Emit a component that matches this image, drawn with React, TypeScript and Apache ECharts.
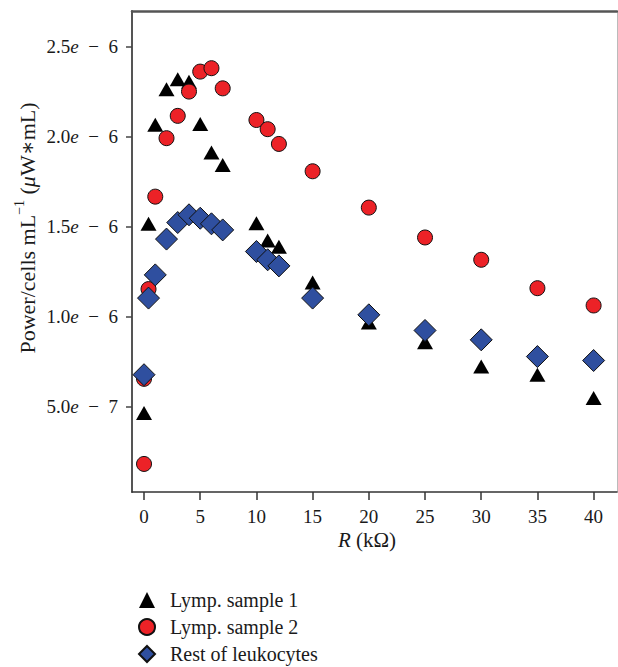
import React, { useEffect, useRef } from "react";
import * as echarts from "echarts";

const FONT = "'Liberation Serif', 'DejaVu Serif', serif";

const seriesNames = ["Lymp. sample 1", "Lymp. sample 2", "Rest of leukocytes"];

const rSample1 = [0, 0.4, 1, 2, 3, 4, 5, 6, 7, 10, 11, 12, 15, 20, 25, 30, 35, 40];
const powerSample1 = [
  4.65e-7, 1.517e-6, 2.067e-6, 2.265e-6, 2.32e-6, 2.307e-6, 2.072e-6, 1.913e-6, 1.844e-6,
  1.52e-6, 1.424e-6, 1.389e-6, 1.191e-6, 9.68e-7, 8.59e-7, 7.24e-7, 6.78e-7, 5.48e-7,
];

const rSample2 = [0, 0, 0.4, 1, 2, 3, 4, 5, 6, 7, 10, 11, 12, 15, 20, 25, 30, 35, 40];
const powerSample2 = [
  1.82e-7, 6.55e-7, 1.154e-6, 1.668e-6, 1.993e-6, 2.117e-6, 2.252e-6, 2.363e-6, 2.382e-6,
  2.27e-6, 2.094e-6, 2.043e-6, 1.961e-6, 1.809e-6, 1.607e-6, 1.441e-6, 1.317e-6, 1.159e-6,
  1.063e-6,
];

const rRest = [0, 0.4, 1, 2, 3, 4, 5, 6, 7, 10, 11, 12, 15, 20, 25, 30, 35, 40];
const powerRest = [
  6.78e-7, 1.104e-6, 1.233e-6, 1.432e-6, 1.524e-6, 1.567e-6, 1.548e-6, 1.517e-6, 1.483e-6,
  1.363e-6, 1.317e-6, 1.283e-6, 1.104e-6, 1.011e-6, 9.24e-7, 8.72e-7, 7.79e-7, 7.57e-7,
];

const xTicks = [0, 5, 10, 15, 20, 25, 30, 35, 40];
const yTicks = [5e-7, 1e-6, 1.5e-6, 2e-6, 2.5e-6];

const xMin = -1.07;
const xMax = 42.08;
const yMin = 2.6e-8;
const yMax = 2.7e-6;

function pairs(xs: number[], ys: number[]) {
  return xs.map((x, i) => [x, ys[i]]);
}

function sciLabel(v: number) {
  const e = Math.floor(Math.log10(v) + 1e-9);
  const m = v / Math.pow(10, e);
  return `{n|${m.toFixed(1)}}{i|e}{n|\u2002−\u2002${-e}}`;
}

export default function App() {
  const ref = useRef<HTMLDivElement>(null);
  useEffect(() => {
    if (!ref.current) return;
    const chart = echarts.init(ref.current, null, { renderer: "svg" });
    const txt = "#1a1a1a";
    chart.setOption({
      animation: false,
      backgroundColor: "#ffffff",
      grid: { left: 132, right: 1, top: 11, bottom: 175, containLabel: false },
      legend: {
        orient: "vertical",
        left: 138,
        top: 590,
        padding: 0,
        itemWidth: 16,
        itemHeight: 16,
        itemGap: 7,
        data: seriesNames,
        textStyle: { fontFamily: FONT, fontSize: 20, color: txt, padding: [0, 0, 0, 10] },
      },
      xAxis: [
        {
          type: "value",
          position: "bottom",
          min: xMin,
          max: xMax,
          axisLine: { show: true, onZero: false, lineStyle: { color: "#333", width: 1.5 } },
          axisTick: { show: true, length: 8, customValues: xTicks, lineStyle: { color: "#333", width: 1.5 } },
          axisLabel: {
            customValues: xTicks,
            fontFamily: FONT,
            fontSize: 19,
            color: txt,
            margin: 15,
          },
          splitLine: { show: false },
        },
        {
          type: "value",
          position: "top",
          min: xMin,
          max: xMax,
          axisLine: { show: true, onZero: false, lineStyle: { color: "#555", width: 2.5 } },
          axisTick: { show: false },
          axisLabel: { show: false },
          splitLine: { show: false },
        },
      ],
      yAxis: [
        {
          type: "value",
          position: "left",
          min: yMin,
          max: yMax,
          axisLine: { show: true, onZero: false, lineStyle: { color: "#555", width: 2 } },
          axisTick: { show: true, length: 6, customValues: yTicks, lineStyle: { color: "#444", width: 1.5 } },
          axisLabel: {
            customValues: yTicks,
            margin: 14,
            formatter: (v: number) => sciLabel(v),
            rich: {
              n: { fontFamily: FONT, fontSize: 19, color: txt },
              i: { fontFamily: FONT, fontSize: 19, color: txt, fontStyle: "italic" },
            },
          },
          splitLine: { show: false },
        },
        {
          type: "value",
          position: "right",
          min: yMin,
          max: yMax,
          axisLine: { show: true, onZero: false, lineStyle: { color: "#bbbbbb", width: 1 } },
          axisTick: { show: false },
          axisLabel: { show: false },
          splitLine: { show: false },
        },
      ],
      graphic: [
        {
          type: "text",
          x: 367,
          y: 540,
          style: {
            text: "{i|R}{n| (kΩ)}",
            textAlign: "center",
            textVerticalAlign: "middle",
            fill: txt,
            rich: {
              i: { fontFamily: FONT, fontSize: 21, fontStyle: "italic", fill: txt },
              n: { fontFamily: FONT, fontSize: 21, fill: txt },
            },
          },
        },
        {
          type: "text",
          x: 25,
          y: 228,
          rotation: Math.PI / 2,
          style: {
            text: "{n|Power/cells mL}{s|−1}{n| (}{i|μ}{n|W∗mL)}",
            textAlign: "center",
            textVerticalAlign: "middle",
            fill: txt,
            rich: {
              n: { fontFamily: FONT, fontSize: 22, fill: txt, lineHeight: 26, verticalAlign: "bottom" },
              i: { fontFamily: FONT, fontSize: 22, fill: txt, fontStyle: "italic", lineHeight: 26, verticalAlign: "bottom" },
              s: { fontFamily: FONT, fontSize: 14, fill: txt, verticalAlign: "top", lineHeight: 14 },
            },
          },
        },
      ],
      series: [
        {
          name: seriesNames[0],
          type: "scatter",
          symbol: "triangle",
          symbolSize: [16, 14],
          itemStyle: { color: "#000000", borderColor: "#000000", borderWidth: 0, opacity: 1 },
          data: pairs(rSample1, powerSample1),
          z: 2,
        },
        {
          name: seriesNames[1],
          type: "scatter",
          symbol: "circle",
          symbolSize: 15,
          itemStyle: { color: "#ec2227", borderColor: "#111111", borderWidth: 1, opacity: 1 },
          data: pairs(rSample2, powerSample2),
          z: 3,
        },
        {
          name: seriesNames[2],
          type: "scatter",
          symbol: "diamond",
          symbolSize: 22,
          itemStyle: { color: "#2f4f9f", borderColor: "#111111", borderWidth: 1, opacity: 1 },
          data: pairs(rRest, powerRest),
          z: 4,
        },
      ],
    });
    return () => chart.dispose();
  }, []);
  return (
    <div
      ref={ref}
      style={{ position: "fixed", left: 0, top: 0, width: 618, height: 667 }}
    />
  );
}
